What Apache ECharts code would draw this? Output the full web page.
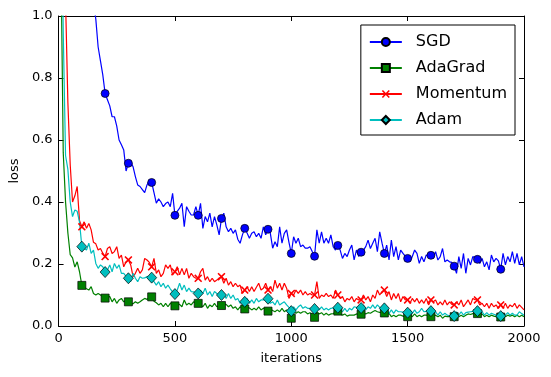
<!DOCTYPE html>
<html>
<head>
<meta charset="utf-8">
<script src="https://cdn.jsdelivr.net/npm/echarts@6/dist/echarts.min.js"></script>
<style>
  html, body { margin: 0; padding: 0; background: #fff; }
  #chart { width: 551px; height: 377px; }
</style>
</head>
<body>
<div id="chart"></div>
<script>
// loss every 10 iterations (0 .. 2000), markers every 100
const step = 10
const markEvery = 100
const lastIter = 2000
const names = ['SGD', 'AdaGrad', 'Momentum', 'Adam']
const xTicks = [0, 500, 1000, 1500, 2000]
const yTicks = [0.0, 0.2, 0.4, 0.6, 0.8, 1.0]

const sgdLoss = [
    2.30, 2.25, 2.20, 2.10, 2.00, 1.90, 1.80, 1.70, 1.60, 1.50,
    1.40, 1.30, 1.22, 1.15, 1.09, 1.04, 0.99, 0.90, 0.855, 0.81,
    0.75, 0.73, 0.71, 0.675, 0.675, 0.645, 0.60, 0.585, 0.568, 0.50,
    0.525, 0.53, 0.514, 0.482, 0.455, 0.45, 0.44, 0.43, 0.455, 0.47,
    0.463, 0.43, 0.396, 0.41, 0.40, 0.385, 0.395, 0.40, 0.385, 0.428,
    0.357, 0.37, 0.38, 0.396, 0.32, 0.385, 0.37, 0.358, 0.358, 0.385,
    0.357, 0.396, 0.315, 0.353, 0.336, 0.364, 0.32, 0.353, 0.326, 0.294,
    0.347, 0.364, 0.32, 0.304, 0.315, 0.299, 0.31, 0.28, 0.267, 0.294,
    0.315, 0.30, 0.283, 0.299, 0.304, 0.288, 0.299, 0.283, 0.32, 0.294,
    0.312, 0.299, 0.251, 0.272, 0.256, 0.32, 0.267, 0.299, 0.31, 0.27,
    0.234, 0.288, 0.267, 0.283, 0.256, 0.261, 0.251, 0.251, 0.256, 0.24,
    0.225, 0.31, 0.267, 0.304, 0.267, 0.283, 0.267, 0.294, 0.256, 0.245,
    0.26, 0.245, 0.218, 0.234, 0.224, 0.245, 0.261, 0.213, 0.245, 0.224,
    0.238, 0.245, 0.256, 0.277, 0.25, 0.267, 0.283, 0.24, 0.304, 0.267,
    0.234, 0.261, 0.213, 0.277, 0.224, 0.256, 0.213, 0.245, 0.234, 0.225,
    0.218, 0.207, 0.224, 0.245, 0.234, 0.202, 0.224, 0.207, 0.229, 0.225,
    0.228, 0.218, 0.24, 0.213, 0.224, 0.25, 0.207, 0.213, 0.207, 0.205,
    0.193, 0.17, 0.224, 0.186, 0.234, 0.17, 0.218, 0.197, 0.224, 0.22,
    0.215, 0.202, 0.218, 0.191, 0.207, 0.181, 0.229, 0.207, 0.218, 0.21,
    0.183, 0.234, 0.197, 0.224, 0.207, 0.24, 0.202, 0.234, 0.197, 0.224,
    0.191
]
const adagradLoss = [
    2.30, 1.20, 0.56, 0.40, 0.30, 0.23, 0.22, 0.19, 0.207, 0.175,
    0.131, 0.125, 0.12, 0.116, 0.127, 0.105, 0.10, 0.105, 0.10, 0.095,
    0.09, 0.095, 0.095, 0.078, 0.089, 0.073, 0.084, 0.089, 0.078, 0.082,
    0.078, 0.07, 0.072, 0.078, 0.073, 0.078, 0.084, 0.089, 0.086, 0.09,
    0.094, 0.08, 0.075, 0.068, 0.073, 0.062, 0.073, 0.062, 0.073, 0.07,
    0.065, 0.07, 0.07, 0.062, 0.084, 0.068, 0.073, 0.068, 0.078, 0.075,
    0.073, 0.068, 0.062, 0.073, 0.057, 0.068, 0.062, 0.073, 0.062, 0.064,
    0.066, 0.07, 0.07, 0.062, 0.068, 0.057, 0.062, 0.052, 0.062, 0.058,
    0.055, 0.062, 0.058, 0.052, 0.057, 0.052, 0.062, 0.052, 0.057, 0.053,
    0.048, 0.055, 0.05, 0.046, 0.052, 0.046, 0.057, 0.046, 0.052, 0.04,
    0.025, 0.046, 0.041, 0.046, 0.041, 0.046, 0.046, 0.039, 0.043, 0.038,
    0.028, 0.046, 0.039, 0.043, 0.035, 0.041, 0.035, 0.039, 0.04, 0.044,
    0.048, 0.039, 0.035, 0.039, 0.032, 0.035, 0.035, 0.035, 0.039, 0.038,
    0.038, 0.043, 0.039, 0.043, 0.041, 0.046, 0.05, 0.046, 0.044, 0.043,
    0.042, 0.035, 0.041, 0.03, 0.035, 0.03, 0.035, 0.035, 0.032, 0.03,
    0.03, 0.035, 0.03, 0.039, 0.03, 0.035, 0.03, 0.035, 0.035, 0.033,
    0.03, 0.032, 0.035, 0.03, 0.035, 0.025, 0.032, 0.03, 0.03, 0.03,
    0.03, 0.035, 0.03, 0.035, 0.03, 0.035, 0.039, 0.037, 0.04, 0.04,
    0.04, 0.035, 0.039, 0.03, 0.035, 0.03, 0.035, 0.032, 0.03, 0.03,
    0.029, 0.035, 0.03, 0.035, 0.032, 0.035, 0.03, 0.035, 0.03, 0.035,
    0.03
]
const momentumLoss = [
    2.30, 2.00, 1.60, 1.05, 0.72, 0.52, 0.40, 0.42, 0.45, 0.34,
    0.32, 0.336, 0.315, 0.331, 0.31, 0.27, 0.265, 0.245, 0.25, 0.235,
    0.224, 0.25, 0.256, 0.234, 0.24, 0.256, 0.218, 0.229, 0.191, 0.207,
    0.213, 0.197, 0.159, 0.17, 0.186, 0.17, 0.181, 0.218, 0.213, 0.205,
    0.191, 0.218, 0.17, 0.181, 0.159, 0.17, 0.197, 0.186, 0.197, 0.165,
    0.175, 0.191, 0.165, 0.186, 0.165, 0.186, 0.154, 0.17, 0.159, 0.154,
    0.154, 0.175, 0.186, 0.148, 0.159, 0.143, 0.154, 0.143, 0.148, 0.155,
    0.159, 0.138, 0.154, 0.132, 0.143, 0.127, 0.138, 0.127, 0.132, 0.105,
    0.116, 0.127, 0.111, 0.127, 0.111, 0.125, 0.138, 0.116, 0.122, 0.138,
    0.116, 0.127, 0.111, 0.148, 0.122, 0.138, 0.116, 0.138, 0.122, 0.089,
    0.105, 0.10, 0.116, 0.105, 0.116, 0.10, 0.111, 0.10, 0.105, 0.10,
    0.10, 0.143, 0.089, 0.10, 0.095, 0.105, 0.095, 0.10, 0.089, 0.116,
    0.10, 0.089, 0.095, 0.078, 0.089, 0.084, 0.095, 0.078, 0.089, 0.084,
    0.084, 0.10, 0.084, 0.095, 0.078, 0.10, 0.089, 0.116, 0.10, 0.111,
    0.116, 0.095, 0.111, 0.084, 0.105, 0.089, 0.105, 0.078, 0.095, 0.084,
    0.084, 0.073, 0.089, 0.078, 0.089, 0.073, 0.084, 0.073, 0.089, 0.068,
    0.084, 0.078, 0.084, 0.068, 0.078, 0.068, 0.084, 0.068, 0.078, 0.07,
    0.068, 0.078, 0.068, 0.084, 0.062, 0.073, 0.084, 0.068, 0.089, 0.085,
    0.084, 0.068, 0.073, 0.062, 0.073, 0.057, 0.073, 0.062, 0.068, 0.057,
    0.068, 0.057, 0.073, 0.057, 0.068, 0.062, 0.073, 0.057, 0.068, 0.06,
    0.052
]
const adamLoss = [
    2.30, 1.60, 0.95, 0.55, 0.505, 0.40, 0.353, 0.374, 0.37, 0.335,
    0.256, 0.25, 0.245, 0.267, 0.234, 0.245, 0.202, 0.186, 0.197, 0.191,
    0.174, 0.181, 0.197, 0.175, 0.202, 0.186, 0.197, 0.17, 0.17, 0.16,
    0.154, 0.143, 0.17, 0.154, 0.143, 0.159, 0.154, 0.155, 0.16, 0.158,
    0.156, 0.143, 0.132, 0.143, 0.127, 0.138, 0.122, 0.132, 0.12, 0.11,
    0.103, 0.116, 0.138, 0.116, 0.132, 0.111, 0.122, 0.111, 0.11, 0.108,
    0.105, 0.116, 0.105, 0.122, 0.10, 0.111, 0.095, 0.111, 0.105, 0.10,
    0.10, 0.105, 0.089, 0.105, 0.089, 0.10, 0.084, 0.089, 0.073, 0.08,
    0.078, 0.089, 0.073, 0.084, 0.073, 0.089, 0.078, 0.084, 0.084, 0.085,
    0.088, 0.073, 0.078, 0.068, 0.084, 0.068, 0.073, 0.078, 0.068, 0.06,
    0.048, 0.062, 0.052, 0.062, 0.068, 0.057, 0.062, 0.057, 0.057, 0.056,
    0.055, 0.062, 0.052, 0.062, 0.052, 0.057, 0.052, 0.057, 0.058, 0.058,
    0.059, 0.052, 0.046, 0.057, 0.046, 0.057, 0.052, 0.062, 0.06, 0.058,
    0.058, 0.068, 0.052, 0.062, 0.057, 0.068, 0.057, 0.068, 0.06, 0.058,
    0.057, 0.052, 0.041, 0.052, 0.041, 0.052, 0.046, 0.046, 0.045, 0.044,
    0.043, 0.052, 0.041, 0.052, 0.041, 0.046, 0.057, 0.046, 0.047, 0.048,
    0.048, 0.041, 0.046, 0.035, 0.046, 0.035, 0.041, 0.035, 0.033, 0.032,
    0.032, 0.046, 0.035, 0.046, 0.035, 0.043, 0.045, 0.046, 0.047, 0.048,
    0.048, 0.041, 0.046, 0.035, 0.043, 0.035, 0.041, 0.038, 0.035, 0.033,
    0.032, 0.041, 0.035, 0.043, 0.035, 0.041, 0.035, 0.035, 0.046, 0.04,
    0.035
]

const crossPath = 'path://M0,1.4L1.4,0L5,3.6L8.6,0L10,1.4L6.4,5L10,8.6L8.6,10L5,6.4L1.4,10L0,8.6L3.6,5Z'
const font = 'DejaVu Sans'

function makeSeries(name, loss, color, symbol, size, border) {
    return {
        name: name,
        type: 'line',
        data: loss.map((v, i) => {
            let it = i * step
            return {
                value: [it, v],
                symbol: (it % markEvery === 0 && it < lastIter) ? symbol : 'none'
            }
        }),
        symbol: symbol,
        symbolSize: size,
        showSymbol: true,
        showAllSymbol: true,
        clip: true,
        animation: false,
        lineStyle: { color: color, width: 1.2 },
        itemStyle: { color: color, borderColor: border ? '#000' : color, borderWidth: border ? 0.7 : 0, opacity: 1 },
        emphasis: { disabled: true }
    }
}

let dom = echarts.init(document.getElementById('chart'))
let tickStyle = { show: true, inside: true, length: 5, lineStyle: { color: '#000', width: 1 } }
let lineAxis = { show: true, onZero: false, lineStyle: { color: '#000', width: 1 } }
let option = {
    animation: false,
    backgroundColor: '#fff',
    grid: { left: 58, right: 27, top: 16, bottom: 51, containLabel: false },
    legend: {
        orient: 'vertical',
        right: 36,
        top: 25,
        data: names,
        backgroundColor: '#fff',
        borderColor: '#000',
        borderWidth: 1,
        borderRadius: 0,
        padding: [9, 8, 7, 8],
        itemGap: 10,
        itemWidth: 32,
        itemHeight: 10,
        textStyle: { fontFamily: font, fontSize: 16, color: '#000', padding: [0, 0, 0, 9] }
    },
    xAxis: [
        {
            type: 'value', min: xTicks[0], max: xTicks[xTicks.length - 1], interval: xTicks[1] - xTicks[0],
            position: 'bottom',
            axisLine: lineAxis, axisTick: tickStyle, splitLine: { show: false },
            axisLabel: { color: '#000', fontFamily: font, fontSize: 13, margin: 6, formatter: v => String(v) },
            name: 'iterations', nameLocation: 'middle', nameGap: 26,
            nameTextStyle: { color: '#000', fontFamily: font, fontSize: 13 }
        },
        {
            type: 'value', min: xTicks[0], max: xTicks[xTicks.length - 1], interval: xTicks[1] - xTicks[0],
            position: 'top',
            axisLine: lineAxis, axisTick: tickStyle, splitLine: { show: false },
            axisLabel: { show: false }
        }
    ],
    yAxis: [
        {
            type: 'value', min: yTicks[0], max: yTicks[yTicks.length - 1], interval: 0.2,
            position: 'left',
            axisLine: lineAxis, axisTick: tickStyle, splitLine: { show: false },
            axisLabel: { color: '#000', fontFamily: font, fontSize: 13, margin: 6, formatter: v => v.toFixed(1) },
            name: 'loss', nameLocation: 'middle', nameGap: 33, nameRotate: 90,
            nameTextStyle: { color: '#000', fontFamily: font, fontSize: 13 }
        },
        {
            type: 'value', min: yTicks[0], max: yTicks[yTicks.length - 1], interval: 0.2,
            position: 'right',
            axisLine: lineAxis, axisTick: tickStyle, splitLine: { show: false },
            axisLabel: { show: false }
        }
    ],
    series: [
        makeSeries(names[0], sgdLoss, '#0000ff', 'circle', 8, true),
        makeSeries(names[1], adagradLoss, '#008000', 'rect', 8, true),
        makeSeries(names[2], momentumLoss, '#ff0000', crossPath, 8, false),
        makeSeries(names[3], adamLoss, '#00bfbf', 'diamond', [10, 11], true)
    ]
}
dom.setOption(option)
</script>
</body>
</html>
